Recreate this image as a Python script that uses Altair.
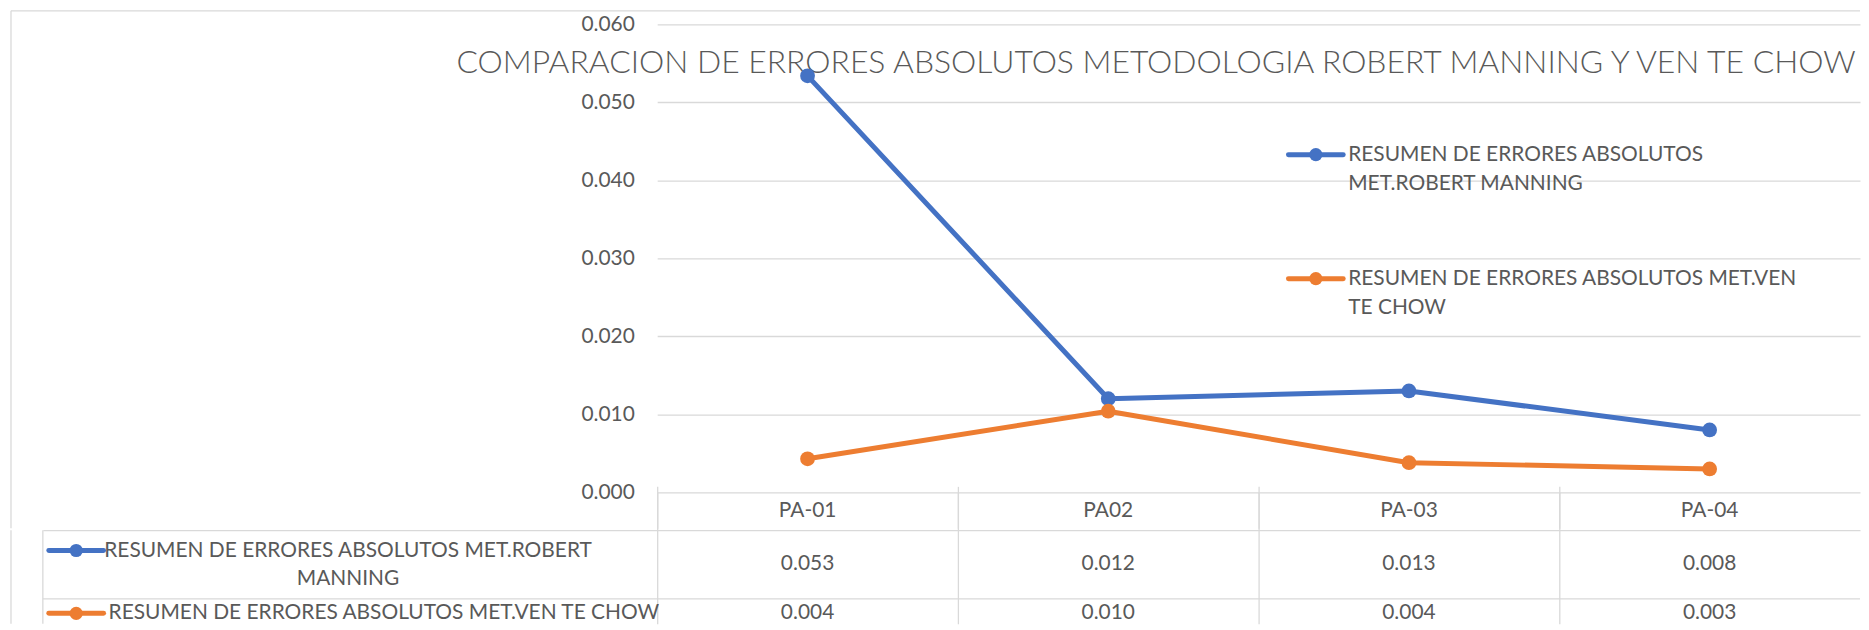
import json
import altair as alt
import pandas as pd

# ---------------- data ----------------
categories = ["PA-01", "PA02", "PA-03", "PA-04"]
series_names = [
    "RESUMEN DE ERRORES ABSOLUTOS MET.ROBERT MANNING",
    "RESUMEN DE ERRORES ABSOLUTOS MET.VEN TE CHOW",
]
manning_values = [0.0534, 0.0120, 0.0130, 0.0080]
chow_values = [0.0043, 0.0104, 0.0038, 0.0030]
series_colors = ["#4472C4", "#ED7D31"]
y_ticks = [0.0, 0.01, 0.02, 0.03, 0.04, 0.05, 0.06]
title_text = "COMPARACION DE ERRORES ABSOLUTOS METODOLOGIA ROBERT MANNING Y VEN TE CHOW"
legend_label_lines = [
    ["RESUMEN DE ERRORES ABSOLUTOS", "MET.ROBERT MANNING"],
    ["RESUMEN DE ERRORES ABSOLUTOS MET.VEN", "TE CHOW"],
]
table_label_lines = [
    ["RESUMEN DE ERRORES ABSOLUTOS MET.ROBERT", "MANNING"],
    ["RESUMEN DE ERRORES ABSOLUTOS MET.VEN TE CHOW"],
]

rows = []
for name, vals in zip(series_names, [manning_values, chow_values]):
    for i, (c, v) in enumerate(zip(categories, vals)):
        rows.append({"cat": c, "series": name, "value": v, "idx": i})
df = pd.DataFrame(rows)
one = pd.DataFrame({"k": [0]})

# ---------------- style ----------------
FONT = "Lato"
FS = 21
TXT = "#595959"
GRID = "#D9D9D9"
GW = 1.3
W, H = 1208, 470
HDR = 36
RH = 69
TH = 94
KEY = 617          # width of the key column left of the table values
LEFT = 649         # frame offset left of the plot
LW = 5

s0 = json.dumps(series_names[0])
table_axis_expr = f"datum.label == {s0} ? {json.dumps(table_label_lines[0])} : ''"

xscale = alt.Scale(type="band", domain=categories, paddingInner=0, paddingOuter=0)
col_scale = alt.Scale(domain=series_names, range=series_colors)


def key_glyph(x0, y, color):
    """legend key: short line with a dot in the middle"""
    ln = alt.Chart(one).mark_rule(color=color, strokeWidth=LW, strokeCap="round").encode(
        x=alt.value(x0), x2=alt.value(x0 + 55), y=alt.value(y))
    dot = alt.Chart(one).mark_circle(color=color, size=175, opacity=1).encode(
        x=alt.value(x0 + 27.5), y=alt.value(y))
    return [ln, dot]


def label(x, y, text, align="left"):
    return alt.Chart(one).mark_text(
        font=FONT, fontSize=FS, color=TXT, align=align, baseline="middle").encode(
        x=alt.value(x), y=alt.value(y), text=alt.value(text))


# ---------------- top chart ----------------
x_top = alt.X(
    "cat:N", scale=xscale, bandPosition=0.5,
    axis=alt.Axis(orient="bottom", title=None, domain=False, ticks=True,
                  tickSize=HDR, tickColor=GRID, tickWidth=GW, bandPosition=0,
                  labelPadding=18 - HDR, labelBaseline="middle", labelAngle=0,
                  labelFont=FONT, labelFontSize=FS, labelColor=TXT,
                  grid=False, minExtent=HDR, maxExtent=HDR),
)
y_top = alt.Y(
    "value:Q", scale=alt.Scale(domain=[0, 0.06], nice=False, zero=True),
    axis=alt.Axis(values=y_ticks, format=".3f", title=None, domain=False,
                  ticks=False, labelPadding=23, labelFont=FONT, labelFontSize=FS,
                  labelColor=TXT, gridColor=GRID, gridWidth=GW, maxExtent=1000),
)

frame_top = alt.Chart(one).mark_rule(color=GRID, strokeWidth=GW).encode(
    x=alt.value(-LEFT), x2=alt.value(W), y=alt.value(-13.6))
frame_left = alt.Chart(one).mark_rule(color=GRID, strokeWidth=GW).encode(
    x=alt.value(-LEFT), y=alt.value(-13.6), y2=alt.value(H + HDR))

title = alt.Chart(one).mark_text(
    font=FONT, fontSize=32.0, fontWeight=300, color=TXT, align="center",
    baseline="middle").encode(
    x=alt.value(501), y=alt.value(38.4), text=alt.value(title_text))

lines = alt.Chart(df).mark_line(strokeWidth=LW, strokeJoin="round", strokeCap="round").encode(
    x=x_top, y=y_top, order=alt.Order("idx:Q"),
    color=alt.Color("series:N", scale=col_scale, legend=None))

dots = alt.Chart(df).mark_circle(size=220, opacity=1).encode(
    x=x_top, y=y_top, color=alt.Color("series:N", scale=col_scale, legend=None))

top_layers = [frame_top, frame_left, title, lines, dots]
legend_y = [130.9, 255.4]
for i, color in enumerate(series_colors):
    top_layers += key_glyph(634, legend_y[i], color)
    for j, line_text in enumerate(legend_label_lines[i]):
        top_layers.append(label(694, legend_y[i] + 29.5 * j, line_text))

top = alt.layer(*top_layers).properties(width=W, height=H)

# ---------------- data table ----------------
x_tab = alt.X(
    "cat:N", scale=xscale, bandPosition=0.5,
    axis=alt.Axis(orient="bottom", title=None, labels=False, ticks=False,
                  domain=False, grid=True, gridColor=GRID, gridWidth=GW,
                  bandPosition=0, minExtent=0, maxExtent=0))
y_tab = alt.Y(
    "series:N",
    scale=alt.Scale(type="band", domain=series_names, range=[0, 2 * RH],
                    paddingInner=0, paddingOuter=0),
    bandPosition=0.5,
    axis=alt.Axis(orient="left", title=None, domain=False, ticks=True,
                  values=[series_names[0]], tickExtra=False,
                  tickSize=KEY, tickColor=GRID, tickWidth=GW, bandPosition=0,
                  grid=True, gridColor=GRID, gridWidth=GW,
                  labelExpr=table_axis_expr, labelAlign="center",
                  labelBaseline="middle", labelPadding=311 - KEY, labelOffset=-14,
                  labelLineHeight=29, labelFont=FONT, labelFontSize=FS,
                  labelColor=TXT, labelLimit=1000, maxExtent=1000))

tbase = alt.Chart(df).encode(x=x_tab, y=y_tab)
row1 = tbase.transform_filter(alt.datum.series == series_names[0]).mark_text(
    font=FONT, fontSize=FS, color=TXT).encode(text=alt.Text("value:Q", format=".3f"))
row2 = tbase.transform_filter(alt.datum.series == series_names[1]).mark_text(
    font=FONT, fontSize=FS, color=TXT, dy=-20).encode(
    text=alt.Text("value:Q", format=".3f"))

divider = alt.Chart(one).mark_rule(color=GRID, strokeWidth=GW).encode(
    x=alt.value(-KEY), x2=alt.value(W), y=alt.value(RH))
tframe = alt.Chart(one).mark_rule(color=GRID, strokeWidth=GW).encode(
    x=alt.value(-KEY), y=alt.value(0), y2=alt.value(TH))
tframe_outer = alt.Chart(one).mark_rule(color=GRID, strokeWidth=GW).encode(
    x=alt.value(-LEFT), y=alt.value(0), y2=alt.value(TH))

table_layers = [tframe_outer, tframe, divider, row1, row2]
key_y = [20.4, 83.5]
for i, color in enumerate(series_colors):
    table_layers += key_glyph(-611, key_y[i], color)
table_layers.append(label(-551, key_y[1], table_label_lines[1][0]))

table = alt.layer(*table_layers).properties(width=W, height=TH)

chart = (
    alt.vconcat(top, table, spacing=0)
    .resolve_scale(x="independent", y="independent", color="independent")
    .properties(padding={"left": 2, "top": 0, "right": 0, "bottom": 0},
                background="white")
    .configure_view(stroke=None)
)

chart.save("out.html", embed_options={"renderer": "svg", "actions": False})
